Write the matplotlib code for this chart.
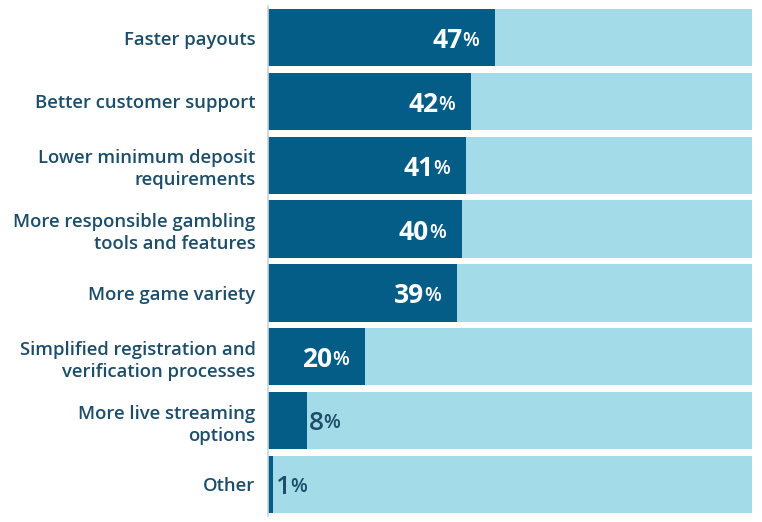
import matplotlib
matplotlib.use("Agg")
import matplotlib.pyplot as plt

# data
categories = [
    "Faster payouts",
    "Better customer support",
    "Lower minimum deposit\nrequirements",
    "More responsible gambling\ntools and features",
    "More game variety",
    "Simplified registration and\nverification processes",
    "More live streaming\noptions",
    "Other",
]
values = [47, 42, 41, 40, 39, 20, 8, 1]
total = 100

DARK = "#045d86"
LIGHT = "#a4dbe8"
TEXT = "#1c4e6a"

plt.rcParams["font.family"] = ["Open Sans", "DejaVu Sans"]

fig = plt.figure(figsize=(7.62, 5.22), dpi=100)
ax = fig.add_axes([0.3517, 0.011, 0.6352, 0.978])

ypos = list(range(len(categories)))
ax.barh(ypos, [total] * len(values), height=0.9, color=LIGHT, zorder=1)
ax.barh(ypos, values, height=0.9, color=DARK, zorder=2)

ax.set_xlim(0, total)
ax.set_ylim(len(categories) - 0.5, -0.5)
ax.set_xticks([])
ax.set_yticks(ypos)
ax.set_yticklabels(categories, fontsize=13.3, color=TEXT, fontweight="semibold",
                   linespacing=1.3)
ax.tick_params(axis="y", length=0, pad=9)
for s in ["top", "right", "bottom"]:
    ax.spines[s].set_visible(False)
ax.spines["left"].set_color("#c9d6dc")
ax.spines["left"].set_linewidth(1.2)
ax.spines["left"].set_zorder(3)

fig.canvas.draw()
r = fig.canvas.get_renderer()

pct_probe = ax.text(0, 0, "%", fontsize=14, fontweight="semibold")
pw = pct_probe.get_window_extent(r).width
pct_probe.remove()

# value labels: big number + small % sign
for y, v in zip(ypos, values):
    if v >= 15:
        num = ax.annotate(str(v), xy=(v, y), xytext=(-16 - pw, 0),
                          textcoords="offset pixels", ha="right",
                          va="center_baseline", fontsize=19, fontweight="bold",
                          color="white", zorder=4)
        col = "white"
    else:
        num = ax.annotate(str(v), xy=(v, y), xytext=(2, 0),
                          textcoords="offset pixels", ha="left",
                          va="center_baseline", fontsize=19, fontweight="semibold",
                          color=TEXT, zorder=4)
        col = TEXT
    ax.annotate("%", xy=(1, 0), xycoords=num, xytext=(0, 3),
                textcoords="offset pixels", ha="left", va="bottom",
                fontsize=14, fontweight="semibold", color=col, zorder=4)

fig.savefig("out.png", dpi=100)
